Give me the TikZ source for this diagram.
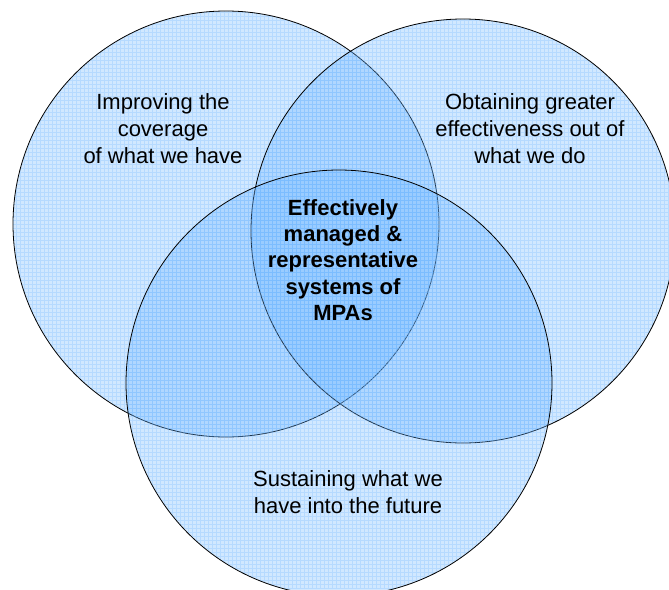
\documentclass[tikz,border=0pt]{standalone}
\usepackage{fontspec}
\setmainfont{Liberation Sans}
\definecolor{vfill}{RGB}{102,178,255}
\begin{document}
\begin{tikzpicture}[x=1pt,y=-1pt,
  vennfill/.style={fill=vfill, fill opacity=0.3},
  venngrid/.style={draw=vfill, opacity=0.25, line width=0.8pt},
  vennline/.style={draw=black, line width=0.8pt},
  lbl/.style={align=center, font=\fontsize{22}{27}\selectfont, text=black, inner sep=0pt},
  lblb/.style={align=center, font=\fontsize{22}{26.3}\selectfont\bfseries, text=black, inner sep=0pt}]
\useasboundingbox (0,0) rectangle (669,589);
% left circle
\fill[vennfill] (226,224) circle[radius=213];
\begin{scope}
  \clip (226,224) circle[radius=213];
  \draw[venngrid] (0,0) grid[step=4pt] (669,589);
\end{scope}
\draw[vennline] (226,224) circle[radius=213];
% right circle
\fill[vennfill] (463,231) circle[radius=212];
\begin{scope}
  \clip (463,231) circle[radius=212];
  \draw[venngrid] (0,0) grid[step=4pt] (669,589);
\end{scope}
\draw[vennline] (463,231) circle[radius=212];
% bottom circle
\fill[vennfill] (339,383) circle[radius=213];
\begin{scope}
  \clip (339,383) circle[radius=213];
  \draw[venngrid] (0,0) grid[step=4pt] (669,589);
\end{scope}
\draw[vennline] (339,383) circle[radius=213];
% labels
\node[lbl] (left) at (163,129) {Improving the\\coverage\\of what we have};
\node[lbl] (right) at (530,129) {Obtaining greater\\effectiveness out of\\what we do};
\node[lblb] (centre) at (343,260) {Effectively\\managed \&\\representative\\systems of\\MPAs};
\node[lbl] (bottom) at (348,492) {Sustaining what we\\have into the future};
\end{tikzpicture}
\end{document}
